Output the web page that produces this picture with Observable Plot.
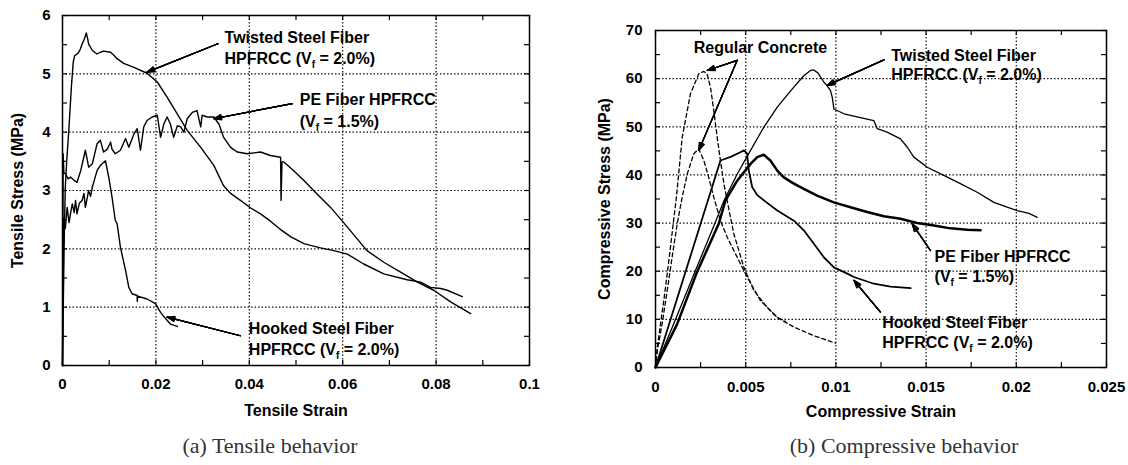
<!DOCTYPE html>
<html><head><meta charset="utf-8">
<script src="https://cdn.jsdelivr.net/npm/d3@7"></script>
<script src="https://cdn.jsdelivr.net/npm/@observablehq/plot@0.6"></script>
<style>
body{margin:0;background:#fff;}
#wrap{position:relative;width:1128px;height:465px;overflow:hidden;background:#fff;}
#left{position:absolute;left:0;top:0;}
#right{position:absolute;left:560px;top:0;}
.cap{position:absolute;top:433px;font-family:"Liberation Serif","Times New Roman",serif;font-size:22px;color:#333;transform:translateX(-50%);white-space:nowrap;}
</style></head><body>
<div id="wrap"><div id="left"></div><div id="right"></div>
<div class="cap" id="capA" style="left:270px"></div>
<div class="cap" id="capB" style="left:904px"></div></div>
<script>
// ---------- data: tensile (strain, stress MPa) ----------
const tensileTwisted = [[0,0],[0.0002,1.2],[0.0004,2.3],[0.0006,3.06],[0.0009,3.5],[0.00135,4.03],[0.0019,4.77],[0.0023,5.2],[0.0026,5.31],[0.0033,5.35],[0.0038,5.42],[0.0042,5.51],[0.0047,5.6],[0.0051,5.70],[0.0054,5.6],[0.0056,5.51],[0.0064,5.40],[0.0074,5.34],[0.0081,5.37],[0.0088,5.39],[0.0103,5.37],[0.0110,5.32],[0.0117,5.26],[0.0131,5.18],[0.0153,5.11],[0.0181,5.01],[0.0203,4.86],[0.0224,4.60],[0.0246,4.31],[0.0267,4.03],[0.0296,3.74],[0.0324,3.43],[0.0345,3.08],[0.0360,2.95],[0.0381,2.83],[0.0403,2.7],[0.0424,2.6],[0.0446,2.47],[0.0467,2.33],[0.0490,2.2],[0.0517,2.09],[0.0550,2.02],[0.0581,1.97],[0.0610,1.91],[0.0645,1.74],[0.0688,1.57],[0.0738,1.47],[0.0767,1.43],[0.0788,1.34],[0.0810,1.32],[0.0824,1.29],[0.0856,1.18]];
const tensilePE = [[0,0],[0.0001,2.5],[0.00014,3.63],[0.0003,3.3],[0.00064,3.29],[0.0012,3.2],[0.0017,3.23],[0.0024,3.18],[0.0031,3.14],[0.0039,3.34],[0.0049,3.69],[0.0056,3.40],[0.0064,3.46],[0.0074,3.80],[0.0081,3.86],[0.0088,3.66],[0.0096,3.71],[0.0103,3.83],[0.0106,3.71],[0.0113,3.63],[0.0124,3.69],[0.0135,3.89],[0.0142,3.74],[0.0153,3.97],[0.0160,4.06],[0.0167,3.69],[0.0174,4.09],[0.0181,4.20],[0.0192,4.26],[0.0203,4.29],[0.0210,3.91],[0.0217,4.14],[0.0224,4.26],[0.0231,4.14],[0.0238,3.91],[0.0246,4.11],[0.0253,4.09],[0.0260,4.00],[0.0267,4.23],[0.0278,4.34],[0.0288,4.37],[0.0296,4.09],[0.0299,4.29],[0.0310,4.26],[0.0324,4.26],[0.0335,4.14],[0.0345,3.91],[0.0360,3.74],[0.0374,3.66],[0.0396,3.63],[0.0424,3.66],[0.0445,3.60],[0.0467,3.57],[0.0468,2.83],[0.0470,3.49],[0.0474,3.49],[0.0495,3.34],[0.0517,3.17],[0.0545,2.94],[0.0574,2.71],[0.0602,2.45],[0.0652,1.97],[0.0688,1.77],[0.0724,1.60],[0.0760,1.43],[0.0795,1.29],[0.0831,1.09],[0.0874,0.89]];
const tensileHooked = [[0,0],[0.0001,1.3],[0.0002,2.3],[0.0003,2.54],[0.0006,2.35],[0.0010,2.71],[0.0014,2.45],[0.0017,2.60],[0.0021,2.77],[0.0025,2.62],[0.0028,2.83],[0.0031,2.60],[0.0036,2.78],[0.0042,2.83],[0.0046,2.95],[0.0049,2.71],[0.0056,3.0],[0.0060,2.9],[0.0064,3.06],[0.0069,3.2],[0.0074,3.34],[0.0081,3.43],[0.0092,3.51],[0.0099,3.23],[0.0106,2.89],[0.0113,2.49],[0.0117,2.43],[0.0124,2.03],[0.0135,1.63],[0.0142,1.34],[0.0149,1.23],[0.0160,1.20],[0.0160,1.10],[0.0161,1.19],[0.0181,1.14],[0.0199,1.06],[0.0210,0.91],[0.0221,0.80],[0.0231,0.71],[0.0246,0.67]];

// ---------- data: compressive (strain, stress MPa) ----------
const compTwisted = [[0,0],[0.001,9],[0.0022,20],[0.0033,30],[0.0038,34.7],[0.00453,40.2],[0.00527,45.1],[0.006,49.9],[0.00675,54.1],[0.0075,57.5],[0.00822,60.6],[0.00859,61.7],[0.00877,61.8],[0.0090,61.2],[0.00933,59.3],[0.0095,58.6],[0.0097,57.5],[0.0098,56.1],[0.00989,53.7],[0.01045,52.7],[0.01136,51.9],[0.0121,51.3],[0.01229,49.6],[0.01284,48.9],[0.01358,47.5],[0.01395,45.8],[0.01432,43.7],[0.01506,41.6],[0.01598,39.9],[0.0169,38.2],[0.01783,36.4],[0.01876,34.3],[0.01949,33.3],[0.02005,32.6],[0.0207,32.0],[0.02116,31.2]];
const compPE = [[0,0],[0.0012,9],[0.0023,19.8],[0.0035,29.8],[0.00388,34.7],[0.00453,38.8],[0.00527,42.3],[0.00564,43.7],[0.006,44.2],[0.00637,43.0],[0.00675,40.9],[0.00711,39.5],[0.00767,38.2],[0.00822,37.1],[0.00896,35.7],[0.00988,34.3],[0.01081,33.3],[0.01173,32.3],[0.01266,31.4],[0.01358,30.9],[0.0145,30.0],[0.01543,29.5],[0.01635,28.9],[0.01728,28.6],[0.01802,28.5]];
const compHooked = [[0,0],[0.0036,43.0],[0.0042,43.8],[0.0047,44.7],[0.0049,45.1],[0.00508,44.4],[0.00517,40.9],[0.00536,37.5],[0.00564,35.8],[0.00619,34.2],[0.00675,32.6],[0.00767,30.5],[0.00822,28.5],[0.00878,25.7],[0.00933,22.9],[0.00989,20.8],[0.01063,19.5],[0.011,18.8],[0.0121,17.4],[0.01303,16.8],[0.01414,16.5]];
const compRegularA = [[0,0],[0.0001,4.2],[0.00028,9.1],[0.00046,13.9],[0.00065,19.5],[0.00083,25.0],[0.00098,29.8],[0.00116,35.4],[0.00148,47.8],[0.00194,56.9],[0.0024,61.0],[0.00268,61.5],[0.00286,61.0],[0.00305,58.2],[0.00323,53.4],[0.00342,47.8],[0.0036,43.0],[0.00379,38.2],[0.00397,34.7],[0.00434,27.8],[0.0049,20.8],[0.00545,16.0],[0.00619,12.5],[0.00675,10.4],[0.0072,9.6]];
const compRegularB = [[0,0],[0.0001,3.5],[0.00037,9.1],[0.00065,16.0],[0.00092,22.9],[0.0012,29.8],[0.00148,35.4],[0.00176,40.2],[0.00212,44.4],[0.0024,45.4],[0.00268,43.0],[0.00295,39.5],[0.00323,35.4],[0.0036,30.5],[0.00397,27.1],[0.00453,22.9],[0.00508,18.8],[0.00582,13.9],[0.00675,10.4],[0.00767,8.4],[0.00878,6.6],[0.00998,5.05]];

// ---------- ticks ----------
const tensileXTicks = [0,0.02,0.04,0.06,0.08,0.1];
const tensileXLabels = ["0","0.02","0.04","0.06","0.08","0.1"];
const tensileXMinor = [0.01,0.03,0.05,0.07,0.09];
const tensileYTicks = [0,1,2,3,4,5,6];
const tensileYLabels = ["0","1","2","3","4","5","6"];
const tensileYMinor = [0.5,1.5,2.5,3.5,4.5,5.5];
const compXTicks = [0,0.005,0.01,0.015,0.02,0.025];
const compXLabels = ["0","0.005","0.01","0.015","0.02","0.025"];
const compXMinor = [0.0025,0.0075,0.0125,0.0175,0.0225];
const compYTicks = [0,10,20,30,40,50,60,70];
const compYLabels = ["0","10","20","30","40","50","60","70"];
const compYMinor = [5,15,25,35,45,55,65];

// ---------- annotations (data coordinates) ----------
const tensileLabels = [
  {x:0.0347,y:5.61,text:"Twisted Steel Fiber"},{x:0.0347,y:5.25,text:"HPFRCC (V_f = 2.0%)"},
  {x:0.0508,y:4.56,text:"PE Fiber HPFRCC"},{x:0.0508,y:4.18,text:"(V_f = 1.5%)"},
  {x:0.0399,y:0.62,text:"Hooked Steel Fiber"},{x:0.0399,y:0.27,text:"HPFRCC (V_f = 2.0%)"}];
const tensileArrows = [
  {x1:0.0334,y1:5.52,x2:0.0181,y2:5.03},{x1:0.0492,y1:4.49,x2:0.0324,y2:4.23},{x1:0.0381,y1:0.51,x2:0.0224,y2:0.83}];
const compLabels = [
  {x:0.00212,y:66.3,text:"Regular Concrete"},
  {x:0.01307,y:64.8,text:"Twisted Steel Fiber"},{x:0.01307,y:60.7,text:"HPFRCC (V_f = 2.0%)"},
  {x:0.01547,y:22.9,text:"PE Fiber HPFRCC"},{x:0.01547,y:18.9,text:"(V_f = 1.5%)"},
  {x:0.01257,y:9.35,text:"Hooked Steel Fiber"},{x:0.01257,y:5.2,text:"HPFRCC (V_f = 2.0%)"}];
const compArrows = [
  {x1:0.00453,y1:63.8,x2:0.00287,y2:61.7},{x1:0.00453,y1:63.8,x2:0.0024,y2:45.1},
  {x1:0.01266,y1:63.9,x2:0.00952,y2:58.6},{x1:0.01524,y1:24.3,x2:0.01423,y2:29.85},
  {x1:0.01247,y1:11.5,x2:0.011,y2:18.1}];
const captions = ["(a) Tensile behavior","(b) Compressive behavior"];

function subscriptVf(svg){
  const ns="http://www.w3.org/2000/svg";
  svg.querySelectorAll("text").forEach(t=>{
    if (t.children.length===0 && t.textContent.includes("V_f")) {
      const [a,b] = t.textContent.split("V_f");
      t.textContent="";
      const s1=document.createElementNS(ns,"tspan"); s1.textContent=a+"V";
      const s2=document.createElementNS(ns,"tspan"); s2.textContent="f"; s2.setAttribute("dy","4"); s2.setAttribute("font-size","10");
      const s3=document.createElementNS(ns,"tspan"); s3.textContent=b; s3.setAttribute("dy","-4");
      t.append(s1,s2,s3);
    }
  });
}

function chart(o){
  const pw = o.width-o.mL-o.mR, ph = o.height-o.mT-o.mB, tl = 5;
  const marks = [];
  marks.push(Plot.ruleX(o.xTicks.slice(1,-1), {x:d=>d, stroke:"#111", strokeWidth:1.2, strokeDasharray:"1.5,2"}));
  marks.push(Plot.ruleY(o.yTicks.slice(1,-1), {y:d=>d, stroke:"#111", strokeWidth:1.2, strokeDasharray:"1.5,2"}));
  const xt = o.xTicks.concat(o.xMinor), yt = o.yTicks.concat(o.yMinor);
  marks.push(Plot.tickX(xt, {x:d=>d, insetTop:ph-tl, stroke:"black", strokeWidth:1.2}));
  marks.push(Plot.tickX(xt, {x:d=>d, insetBottom:ph-tl, stroke:"black", strokeWidth:1.2}));
  marks.push(Plot.tickY(yt, {y:d=>d, insetRight:pw-tl, stroke:"black", strokeWidth:1.2}));
  marks.push(Plot.tickY(yt, {y:d=>d, insetLeft:pw-tl, stroke:"black", strokeWidth:1.2}));
  o.series.forEach(s => marks.push(Plot.line(s.data, {x:d=>d[0], y:d=>d[1], stroke:"black", strokeWidth:s.w, strokeDasharray:s.dash, strokeLinejoin:"round"})));
  [40,30,20,12,5].forEach(a => marks.push(Plot.arrow(o.arrows, {x1:"x1",y1:"y1",x2:"x2",y2:"y2", stroke:"black", strokeWidth:1.2, headLength:10, headAngle:a})));
  marks.push(Plot.text(o.labels, {x:"x", y:"y", text:"text", textAnchor:"start", fontSize:16, fontWeight:"bold", fill:"black"}));
  marks.push(Plot.text([o.xTitle], {frameAnchor:"bottom", dy:o.xTitleDy, text:d=>d, textAnchor:"middle", fontSize:16, fontWeight:"bold", fill:"black"}));
  marks.push(Plot.text([o.yTitle], {frameAnchor:"left", dx:o.yTitleDx, rotate:-90, text:d=>d, textAnchor:"middle", fontSize:16, fontWeight:"bold", fill:"black"}));
  marks.push(Plot.frame({stroke:"black", strokeWidth:1.5}));
  const svg = Plot.plot({
    width:o.width, height:o.height,
    marginLeft:o.mL, marginRight:o.mR, marginTop:o.mT, marginBottom:o.mB,
    x:{domain:o.xDom, ticks:o.xTicks, tickFormat:d=>o.xLabels[o.xTicks.indexOf(d)], tickSize:0, tickPadding:o.xPad, label:null},
    y:{domain:o.yDom, ticks:o.yTicks, tickFormat:d=>o.yLabels[o.yTicks.indexOf(d)], tickSize:0, tickPadding:o.yPad, label:null},
    style:{fontFamily:"'Liberation Sans', Arial, sans-serif", fontSize:"15px", fontWeight:"bold", color:"black", background:"white", overflow:"visible"},
    marks
  });
  subscriptVf(svg);
  return svg;
}

document.getElementById("left").append(chart({
  width:560, height:425, mL:62, mR:31, mT:15, mB:60,
  xDom:[0,0.1], yDom:[0,6], xTicks:tensileXTicks, xLabels:tensileXLabels, xMinor:tensileXMinor,
  yTicks:tensileYTicks, yLabels:tensileYLabels, yMinor:tensileYMinor, xPad:13, yPad:12,
  series:[{data:tensileTwisted,w:1.4},{data:tensilePE,w:1.4},{data:tensileHooked,w:1.4}],
  labels:tensileLabels, arrows:tensileArrows,
  xTitle:"Tensile Strain", yTitle:"Tensile Stress (MPa)", xTitleDy:50, yTitleDx:-45
}));
document.getElementById("right").append(chart({
  width:568, height:425, mL:95, mR:22, mT:30, mB:58,
  xDom:[0,0.025], yDom:[0,70], xTicks:compXTicks, xLabels:compXLabels, xMinor:compXMinor,
  yTicks:compYTicks, yLabels:compYLabels, yMinor:compYMinor, xPad:14, yPad:13,
  series:[{data:compRegularA,w:1.3,dash:"4,3"},{data:compRegularB,w:1.3,dash:"4,3"},{data:compTwisted,w:1.3},{data:compHooked,w:1.8},{data:compPE,w:2.5}],
  labels:compLabels, arrows:compArrows,
  xTitle:"Compressive Strain", yTitle:"Compressive Stress (MPa)", xTitleDy:49, yTitleDx:-51
}));
document.getElementById("capA").textContent = captions[0];
document.getElementById("capB").textContent = captions[1];
</script></body></html>
